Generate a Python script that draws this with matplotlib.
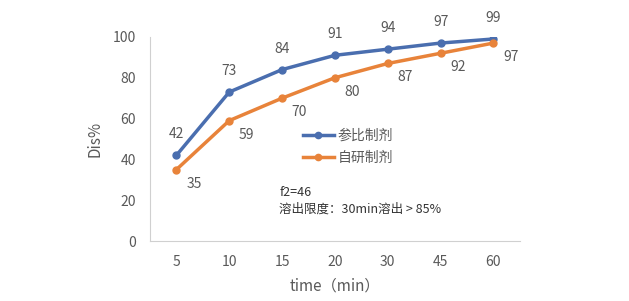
import matplotlib
matplotlib.use("Agg")
import matplotlib.pyplot as plt

plt.rcParams['font.family'] = ['Noto Sans CJK SC', 'DejaVu Sans']

categories = ['5', '10', '15', '20', '30', '45', '60']
ref_values = [42, 73, 84, 91, 94, 97, 99]
test_values = [35, 59, 70, 80, 87, 92, 97]
ref_name = '参比制剂'
test_name = '自研制剂'
yticks = [0, 20, 40, 60, 80, 100]

blue = '#4A6EAF'
orange = '#E8833A'
gray = '#595959'

fig = plt.figure(figsize=(6.29, 3.01), dpi=100)
ax = fig.add_axes([0.2385, 0.1993, 0.588, 0.678])
x = list(range(len(categories)))
ax.plot(x, ref_values, color=blue, lw=2.5, marker='o', ms=5, label=ref_name)
ax.plot(x, test_values, color=orange, lw=2.5, marker='o', ms=5, label=test_name)

for xi, v in zip(x, ref_values):
    ax.annotate(str(v), (xi, v), xytext=(0, 10), textcoords='offset points',
                ha='center', va='bottom', fontsize=10, color=gray)
for xi, v in zip(x, test_values):
    ax.annotate(str(v), (xi, v), xytext=(7, -5), textcoords='offset points',
                ha='left', va='top', fontsize=10, color=gray)

ax.set_xlim(-0.5, len(categories) - 0.5)
ax.set_ylim(0, 100)
ax.set_xticks(x)
ax.set_xticklabels(categories)
ax.set_yticks(yticks)
ax.tick_params(length=0, labelsize=10, colors=gray, pad=10)
for s in ['top', 'right']:
    ax.spines[s].set_visible(False)
for s in ['left', 'bottom']:
    ax.spines[s].set_color('#D0D0D0')
ax.set_xlabel('time（min）', fontsize=11, color=gray, labelpad=6)
ax.set_ylabel('Dis%', fontsize=11, color=gray, labelpad=7)

leg = ax.legend(loc='upper left', bbox_to_anchor=(0.38, 0.61), frameon=False,
                fontsize=10, labelcolor=gray, handlelength=2.2, handletextpad=0.3,
                labelspacing=0.55, markerscale=0.9)
ax.text(0.35, 0.24, 'f2=46', transform=ax.transAxes, fontsize=9, color='#333333', va='center')
ax.text(0.35, 0.155, '溶出限度：30min溶出 > 85%', transform=ax.transAxes, fontsize=9,
        color='#333333', va='center')

fig.savefig('out.png', dpi=100)
